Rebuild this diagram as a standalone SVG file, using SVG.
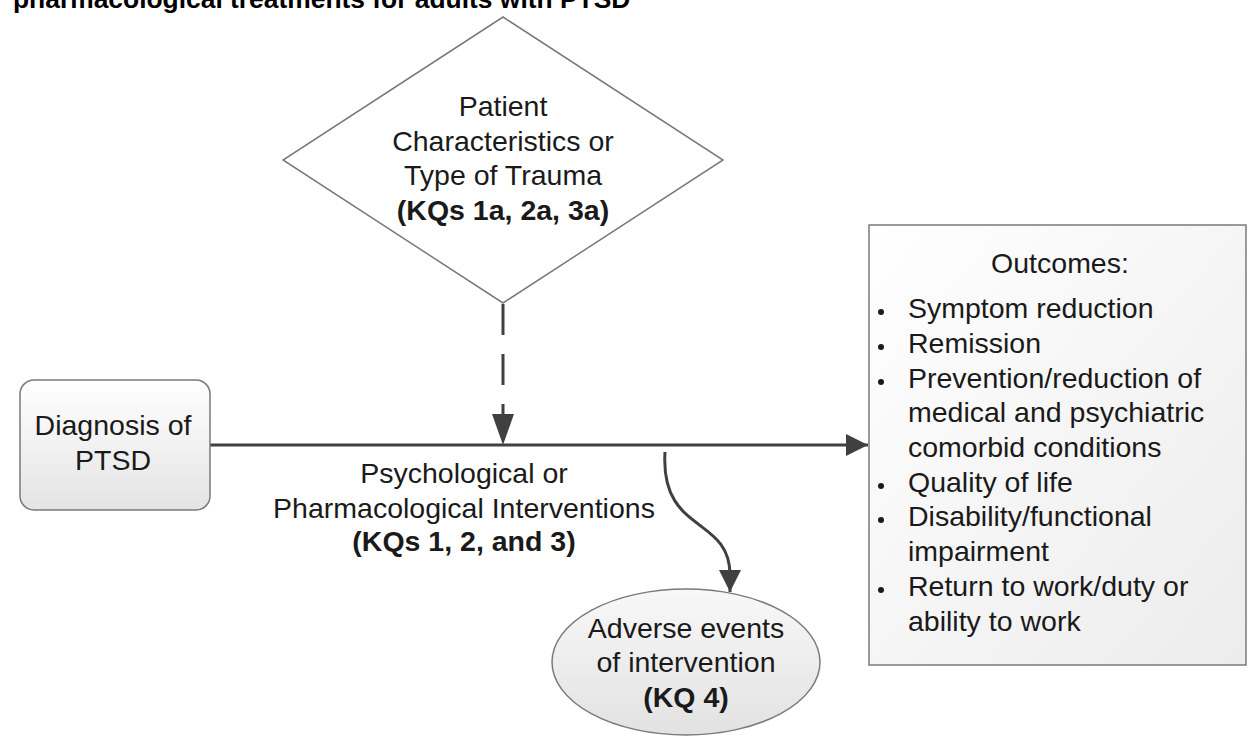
<svg xmlns="http://www.w3.org/2000/svg" width="1248" height="736" viewBox="0 0 1248 736">
<defs>
<linearGradient id="gBox" x1="0" y1="0" x2="0" y2="1"><stop offset="0" stop-color="#ffffff"/><stop offset="1" stop-color="#e4e4e4"/></linearGradient>
<linearGradient id="gOut" x1="0" y1="0" x2="1" y2="1"><stop offset="0" stop-color="#ffffff"/><stop offset="1" stop-color="#ececec"/></linearGradient>
<linearGradient id="gEll" x1="0" y1="0" x2="0" y2="1"><stop offset="0" stop-color="#f8f8f8"/><stop offset="1" stop-color="#e2e2e2"/></linearGradient>
<marker id="ah" viewBox="0 0 22 22" refX="22" refY="11" markerWidth="22" markerHeight="22" markerUnits="userSpaceOnUse" orient="auto"><path d="M0,0 L22,11 L0,22 Z" fill="#404040"/></marker>
<marker id="ahLong" viewBox="0 0 31 22" refX="31" refY="11" markerWidth="31" markerHeight="22" markerUnits="userSpaceOnUse" orient="auto"><path d="M0,0 L31,11 L0,22 Z" fill="#404040"/></marker>
</defs>
<style>
text{font-family:"Liberation Sans",Arial,sans-serif;font-size:28.5px;fill:#1a1a1a}
.c{text-anchor:middle}
.b{font-weight:bold}
.shape{stroke:#7a7a7a;stroke-width:1.5}
.conn{fill:none;stroke:#404040;stroke-width:3}
</style>
<text x="13" y="8" class="b" style="font-size:26.4px;fill:#000">pharmacological treatments for adults with PTSD</text>
<g id="connectors">
<line class="conn" x1="210" y1="445" x2="868" y2="445" marker-end="url(#ah)"/>
<line class="conn" x1="503" y1="304" x2="503" y2="445" stroke-dasharray="31 19" marker-end="url(#ahLong)"/>
<path class="conn" d="M665,452 C660,535 730,515 730,575 L730,592" marker-end="url(#ah)"/>
</g>
<g id="diamond">
<polygon class="shape" points="503,17 723,160 503,303 283,160" fill="#ffffff"/>
<text class="c" x="503" y="116">Patient</text>
<text class="c" x="503" y="151">Characteristics or</text>
<text class="c" x="503" y="185">Type of Trauma</text>
<text class="c b" x="503" y="220">(KQs 1a, 2a, 3a)</text>
</g>
<g id="diagnosis">
<rect class="shape" x="20" y="380" width="190" height="130" rx="14" fill="url(#gBox)"/>
<text class="c" x="113" y="435">Diagnosis of</text>
<text class="c" x="113" y="470">PTSD</text>
</g>
<g id="interventions">
<text class="c" x="464" y="483">Psychological or</text>
<text class="c" x="464" y="518">Pharmacological Interventions</text>
<text class="c b" x="464" y="551">(KQs 1, 2, and 3)</text>
</g>
<g id="adverse">
<ellipse class="shape" cx="686" cy="662" rx="134" ry="73" fill="url(#gEll)"/>
<text class="c" x="686" y="638">Adverse events</text>
<text class="c" x="686" y="672">of intervention</text>
<text class="c b" x="686" y="707">(KQ 4)</text>
</g>
<g id="outcomes">
<rect class="shape" x="869" y="225" width="377" height="440" fill="url(#gOut)"/>
<text class="c" x="1060" y="273">Outcomes:</text>
<g fill="#1a1a1a">
<circle cx="881" cy="312" r="3"/>
<circle cx="881" cy="347" r="3"/>
<circle cx="881" cy="382" r="3"/>
<circle cx="881" cy="486" r="3"/>
<circle cx="881" cy="520" r="3"/>
<circle cx="881" cy="590" r="3"/>
</g>
<text x="908" y="318">Symptom reduction</text>
<text x="908" y="353">Remission</text>
<text x="908" y="388">Prevention/reduction of</text>
<text x="908" y="422">medical and psychiatric</text>
<text x="908" y="457">comorbid conditions</text>
<text x="908" y="492">Quality of life</text>
<text x="908" y="526">Disability/functional</text>
<text x="908" y="561">impairment</text>
<text x="908" y="596">Return to work/duty or</text>
<text x="908" y="631">ability to work</text>
</g>
</svg>
